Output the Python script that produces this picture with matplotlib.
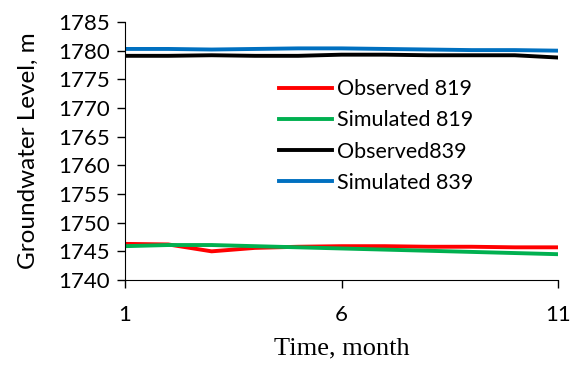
import numpy as np
import matplotlib
matplotlib.use("Agg")
from matplotlib import pyplot as plt

months = [1, 2, 3, 4, 5, 6, 7, 8, 9, 10, 11]
obs_819 = [1746.3, 1746.2, 1745.0, 1745.6, 1745.8, 1745.9, 1745.9, 1745.8, 1745.8, 1745.7, 1745.7]
sim_819 = [1745.9, 1746.1, 1746.1, 1745.9, 1745.7, 1745.5, 1745.3, 1745.1, 1744.9, 1744.7, 1744.5]
obs_839 = [1779.1, 1779.1, 1779.2, 1779.1, 1779.1, 1779.3, 1779.3, 1779.2, 1779.2, 1779.2, 1778.8]
sim_839 = [1780.3, 1780.3, 1780.2, 1780.3, 1780.4, 1780.4, 1780.3, 1780.2, 1780.1, 1780.1, 1780.0]
labels = ["Observed 819", "Simulated 819", "Observed839", "Simulated 839"]
colors = ["#ff0000", "#00b050", "#000000", "#0070c0"]

sans = ["Lato", "DejaVu Sans"]
fig = plt.figure(figsize=(5.74, 3.67), dpi=100)
ax = fig.add_axes([125/574, 1-280/367, (558-125)/574, (280-22)/367])
for ys, c, lab in zip([obs_819, sim_819, obs_839, sim_839], colors, labels):
    ax.plot(months, ys, color=c, lw=2.8, label=lab)

ax.set_xlim(1, 11)
ax.set_ylim(1740, 1785)
ax.set_xticks([1, 6, 11])
ax.set_yticks(np.arange(1740, 1786, 5))
for s in ["top", "right"]:
    ax.spines[s].set_visible(False)
ax.tick_params(direction="out", length=6, width=1, labelsize=16)
ax.tick_params(axis="x", pad=12)
ax.tick_params(axis="y", pad=5)
for t in ax.get_xticklabels() + ax.get_yticklabels():
    t.set_family(sans)
ax.set_ylabel("Groundwater Level, m", fontsize=17.5, family=sans, labelpad=14)
ax.set_xlabel("Time, month", fontsize=19, family="Liberation Serif", labelpad=9)

leg = ax.legend(loc="upper left", bbox_to_anchor=(0.33, 0.82), frameon=False,
                prop={"family": sans, "size": 15.5}, handlelength=2.5,
                handletextpad=0.2, labelspacing=0.52, borderpad=0)
fig.savefig("out.png", dpi=100)
